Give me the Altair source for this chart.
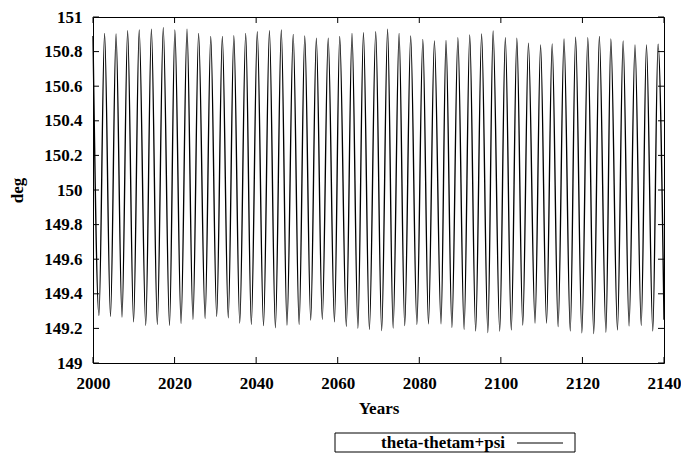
import altair as alt
import pandas as pd

series_name = "theta-thetam+psi"
x_title = "Years"
y_title = "deg"

peak_years = [2000.00, 2002.84, 2005.65, 2008.49, 2011.33, 2014.32, 2017.23, 2020.07,
              2023.05, 2025.89, 2028.87, 2031.71, 2034.53, 2037.44, 2040.28, 2043.26,
              2046.17, 2049.09, 2051.92, 2054.76, 2057.67, 2060.49, 2063.50, 2066.31,
              2069.32, 2072.23, 2075.05, 2077.89, 2080.87, 2083.71, 2086.55, 2089.46,
              2092.37, 2095.28, 2098.10, 2101.10, 2103.92, 2106.76, 2109.74, 2112.58,
              2115.49, 2118.33, 2121.32, 2124.15, 2126.97, 2129.98, 2132.89, 2135.70,
              2138.54]
peak_values = [150.89, 150.905, 150.902, 150.921, 150.925, 150.930, 150.939, 150.925,
               150.930, 150.905, 150.887, 150.887, 150.892, 150.905, 150.915, 150.921,
               150.925, 150.900, 150.890, 150.877, 150.877, 150.887, 150.905, 150.909,
               150.915, 150.930, 150.905, 150.890, 150.871, 150.862, 150.864, 150.881,
               150.896, 150.902, 150.919, 150.881, 150.877, 150.849, 150.839, 150.845,
               150.873, 150.883, 150.881, 150.887, 150.873, 150.862, 150.839, 150.839,
               150.843]
trough_years = [2001.46, 2004.29, 2007.11, 2009.95, 2012.93, 2015.77, 2018.76, 2021.59,
                2024.51, 2027.49, 2030.33, 2033.17, 2035.98, 2038.82, 2041.81, 2044.72,
                2047.56, 2050.54, 2053.38, 2056.22, 2059.20, 2062.11, 2064.95, 2067.77,
                2070.78, 2073.59, 2076.43, 2079.41, 2082.25, 2085.33, 2088.00, 2090.99,
                2093.82, 2096.81, 2099.72, 2102.56, 2105.37, 2108.38, 2111.20, 2114.04,
                2117.02, 2119.86, 2122.77, 2125.76, 2128.59, 2131.43, 2134.42, 2137.25,
                2140.00]
trough_values = [149.274, 149.269, 149.265, 149.238, 149.218, 149.223, 149.218, 149.229,
                 149.252, 149.258, 149.269, 149.261, 149.231, 149.223, 149.216, 149.204,
                 149.219, 149.223, 149.248, 149.253, 149.238, 149.212, 149.201, 149.195,
                 149.187, 149.202, 149.216, 149.223, 149.227, 149.227, 149.206, 149.195,
                 149.185, 149.176, 149.184, 149.191, 149.219, 149.231, 149.231, 149.210,
                 149.185, 149.174, 149.170, 149.178, 149.191, 149.214, 149.218, 149.185,
                 149.250]

x_ticks = [2000, 2020, 2040, 2060, 2080, 2100, 2120, 2140]
y_ticks = [149.0, 149.2, 149.4, 149.6, 149.8, 150.0, 150.2, 150.4, 150.6, 150.8, 151.0]

df = pd.DataFrame({
    "year": peak_years + trough_years,
    "value": peak_values + trough_values,
}).sort_values("year").reset_index(drop=True)
df["series"] = series_name

W, H = 571, 346
FONT = "Liberation Serif"
TL = 6

xscale = alt.Scale(domain=[2000, 2140], nice=False, zero=False)
yscale = alt.Scale(domain=[149, 151], nice=False, zero=False)

x_axis = alt.Axis(values=x_ticks, format="d", title=x_title,
                  labelPadding=12, titleX=W / 2, titleY=45,
                  titleBaseline="middle", titleAlign="center",
                  labelFlush=False, labelOverlap=False)
y_axis = alt.Axis(values=y_ticks, format=".1~f", title=y_title,
                  labelPadding=11, titleX=-76, titleY=H / 2,
                  titleAngle=270, titleBaseline="middle", titleAlign="center",
                  labelFlush=False, labelOverlap=False)

line = alt.Chart(df).mark_line(color="black", strokeWidth=1.35, interpolate="monotone").encode(
    x=alt.X("year:Q", scale=xscale, axis=x_axis, title=x_title),
    y=alt.Y("value:Q", scale=yscale, axis=y_axis, title=y_title),
)

ydf = pd.DataFrame({"value": y_ticks})
xdf = pd.DataFrame({"year": x_ticks})

yt_left = alt.Chart(ydf).mark_rule(color="black", strokeWidth=1).encode(
    y=alt.Y("value:Q", scale=yscale, axis=y_axis, title=y_title),
    x=alt.value(0), x2=alt.value(TL))
yt_right = alt.Chart(ydf).mark_rule(color="black", strokeWidth=1).encode(
    y=alt.Y("value:Q", scale=yscale, axis=y_axis, title=y_title),
    x=alt.value(W - TL), x2=alt.value(W))
xt_bot = alt.Chart(xdf).mark_rule(color="black", strokeWidth=1).encode(
    x=alt.X("year:Q", scale=xscale, axis=x_axis, title=x_title),
    y=alt.value(H - TL), y2=alt.value(H))
xt_top = alt.Chart(xdf).mark_rule(color="black", strokeWidth=1).encode(
    x=alt.X("year:Q", scale=xscale, axis=x_axis, title=x_title),
    y=alt.value(0), y2=alt.value(TL))

# legend box (gnuplot style: label left, sample right)
ldf = pd.DataFrame({"label": [series_name]})
leg_box = alt.Chart(ldf).mark_rect(fill="white", stroke="black", strokeWidth=1).encode(
    x=alt.value(242), x2=alt.value(482), y=alt.value(416), y2=alt.value(435))
leg_text = alt.Chart(ldf).mark_text(font=FONT, fontWeight="bold", fontSize=17,
                                    align="right", baseline="middle", color="black").encode(
    x=alt.value(412), y=alt.value(426), text="label:N")
leg_line = alt.Chart(ldf).mark_rule(color="black", strokeWidth=1).encode(
    x=alt.value(424), x2=alt.value(470), y=alt.value(426))

chart = alt.layer(line, yt_left, yt_right, xt_bot, xt_top, leg_box, leg_text, leg_line).properties(
    width=W, height=H,
    autosize=alt.AutoSizeParams(type="none"),
    padding={"left": 85, "top": 9, "right": 17, "bottom": 90},
).configure_view(
    stroke="black", strokeWidth=1
).configure_axis(
    labelFont=FONT, labelFontWeight="bold", labelFontSize=17, labelColor="black",
    titleFont=FONT, titleFontWeight="bold", titleFontSize=17, titleColor="black",
    ticks=False, domain=False, grid=False,
)

chart.save("out.html", embed_options={"renderer": "svg", "actions": False})
